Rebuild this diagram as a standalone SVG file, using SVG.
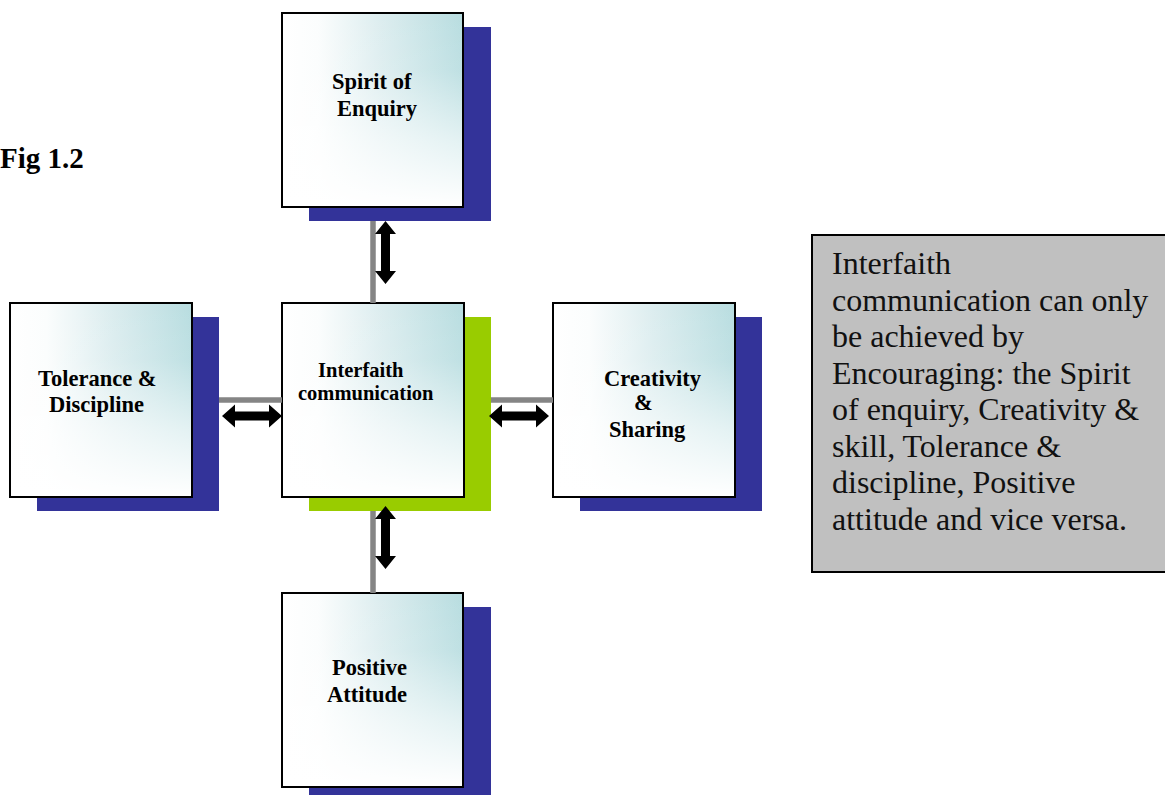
<svg xmlns="http://www.w3.org/2000/svg" width="1165" height="795" viewBox="0 0 1165 795">
<defs>
<linearGradient id="hgrad" x1="0" y1="0" x2="1" y2="0">
<stop offset="0" stop-color="#ffffff"/>
<stop offset="0.2" stop-color="#fbfdfd"/>
<stop offset="0.55" stop-color="#dcedef"/>
<stop offset="1" stop-color="#b8dde0"/>
</linearGradient>
<linearGradient id="vgrad" x1="0" y1="0" x2="0" y2="1">
<stop offset="0" stop-color="#ffffff" stop-opacity="0"/>
<stop offset="0.3" stop-color="#ffffff" stop-opacity="0.1"/>
<stop offset="0.65" stop-color="#ffffff" stop-opacity="0.6"/>
<stop offset="1" stop-color="#ffffff" stop-opacity="1"/>
</linearGradient>
</defs>
<style>
.shadow{fill:#333399}
.shadowg{fill:#99cc00}
.base{fill:url(#hgrad)}
.fade{fill:url(#vgrad);stroke:#000;stroke-width:2}
.lbl{font-family:"Liberation Serif","Times New Roman",serif;font-weight:bold;font-size:22.5px;fill:#000}
.lblc{font-family:"Liberation Serif","Times New Roman",serif;font-weight:bold;font-size:20.5px;fill:#000}
.conn{stroke:#858585;stroke-width:5.5;fill:none}
.arr{fill:#000}
.note{font-family:"Liberation Serif","Times New Roman",serif;font-size:32px;fill:#111}
</style>
<rect width="1165" height="795" fill="#fff"/>
<text x="0" y="168" font-family="'Liberation Serif','Times New Roman',serif" font-weight="bold" font-size="29" fill="#000">Fig 1.2</text>

<g id="node-spirit">
<rect class="shadow" x="309" y="27" width="182" height="194"/>
<rect class="base" x="282" y="13" width="181" height="194"/>
<rect class="fade" x="282" y="13" width="181" height="194"/>
<text class="lbl" x="332" y="89">Spirit of</text>
<text class="lbl" x="337" y="116">Enquiry</text>
</g>

<g id="node-center">
<rect class="shadowg" x="309" y="317" width="182" height="194"/>
<rect class="base" x="282" y="303" width="182" height="194"/>
<rect class="fade" x="282" y="303" width="182" height="194"/>
<text class="lblc" x="318" y="377">Interfaith</text>
<text class="lblc" x="298" y="400">communication</text>
</g>

<g id="node-tolerance">
<rect class="shadow" x="37" y="317" width="182" height="194"/>
<rect class="base" x="10" y="303" width="182" height="194"/>
<rect class="fade" x="10" y="303" width="182" height="194"/>
<text class="lbl" x="38" y="386">Tolerance &amp;</text>
<text class="lbl" x="49" y="412">Discipline</text>
</g>

<g id="node-creativity">
<rect class="shadow" x="580" y="317" width="182" height="194"/>
<rect class="base" x="553" y="303" width="182" height="194"/>
<rect class="fade" x="553" y="303" width="182" height="194"/>
<text class="lbl" x="604" y="386">Creativity</text>
<text class="lbl" x="634" y="410">&amp;</text>
<text class="lbl" x="609" y="437">Sharing</text>
</g>

<g id="node-positive">
<rect class="shadow" x="309" y="607" width="182" height="194"/>
<rect class="base" x="282" y="593" width="181" height="194"/>
<rect class="fade" x="282" y="593" width="181" height="194"/>
<text class="lbl" x="332" y="675">Positive</text>
<text class="lbl" x="327" y="702">Attitude</text>
</g>

<g id="note">
<rect x="812" y="235" width="370" height="337" fill="#c0c0c0" stroke="#000" stroke-width="2"/>
<text class="note" x="832" y="274">Interfaith</text>
<text class="note" x="832" y="311">communication can only</text>
<text class="note" x="832" y="347">be achieved by</text>
<text class="note" x="832" y="384">Encouraging: the Spirit</text>
<text class="note" x="832" y="420">of enquiry, Creativity &amp;</text>
<text class="note" x="832" y="457">skill, Tolerance &amp;</text>
<text class="note" x="832" y="493">discipline, Positive</text>
<text class="note" x="832" y="530">attitude and vice versa.</text>
</g>

<g id="connectors">
<line class="conn" x1="373" y1="221" x2="373" y2="303"/>
<line class="conn" x1="219" y1="400" x2="282" y2="400"/>
<line class="conn" x1="491" y1="400" x2="553" y2="400"/>
<line class="conn" x1="373" y1="511" x2="373" y2="593"/>
<polygon class="arr" points="385.5,221 396,234 390,234 390,271 396,271 385.5,284 375,271 381,271 381,234 375,234"/>
<polygon class="arr" points="385.5,506 396,519 390,519 390,556 396,556 385.5,569 375,556 381,556 381,519 375,519"/>
<polygon class="arr" points="222,416 235,404.5 235,411.5 269,411.5 269,404.5 282,416 269,427.5 269,420.5 235,420.5 235,427.5"/>
<polygon class="arr" points="489,416 502,404.5 502,411.5 536,411.5 536,404.5 549,416 536,427.5 536,420.5 502,420.5 502,427.5"/>
</g>
</svg>
